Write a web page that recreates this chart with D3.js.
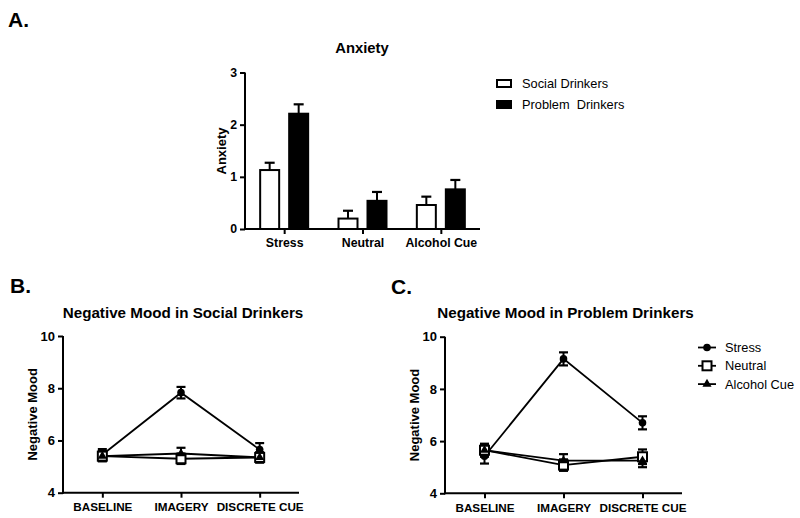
<!DOCTYPE html>
<html><head><meta charset="utf-8">
<script src="https://cdn.jsdelivr.net/npm/d3@7"></script>
<style>body{margin:0;background:#fff}svg{display:block;font-family:"Liberation Sans",Arial,sans-serif}text{white-space:pre}</style>
</head><body><svg id="c" width="800" height="518"></svg>
<script>
// Panel A data
const anxCategories = ["Stress", "Neutral", "Alcohol Cue"];
const anxGroups = ["Social Drinkers", "Problem  Drinkers"];
const anxSocial = [1.13, 0.20, 0.46];
const anxSocialErr = [0.14, 0.15, 0.16];
const anxProblem = [2.21, 0.54, 0.76];
const anxProblemErr = [0.18, 0.17, 0.18];
const anxTicks = [0, 1, 2, 3];

// Panels B & C data
const phases = ["BASELINE", "IMAGERY", "DISCRETE CUE"];
const moodConditions = ["Stress", "Neutral", "Alcohol Cue"];
const moodTicks = [4, 6, 8, 10];
const socialStress = [5.45, 7.83, 5.65];
const socialStressErr = [0.22, 0.22, 0.25];
const socialNeutral = [5.40, 5.30, 5.35];
const socialNeutralErr = [0.18, 0.20, 0.18];
const socialAlcohol = [5.40, 5.50, 5.35];
const socialAlcoholErr = [0.20, 0.22, 0.20];
const problemStress = [5.42, 9.15, 6.70];
const problemStressErr = [0.28, 0.25, 0.25];
const problemNeutral = [5.65, 5.08, 5.40];
const problemNeutralErr = [0.25, 0.22, 0.28];
const problemAlcohol = [5.65, 5.25, 5.25];
const problemAlcoholErr = [0.22, 0.25, 0.25];

const svg = d3.select("#c");
const FONT = "'Liberation Sans', Arial, sans-serif";

function panelLabel(t, x, y) {
  svg.append("text").attr("x", x).attr("y", y).attr("font-size", 21).attr("font-weight", "bold").text(t);
}
panelLabel("A.", 8, 27);
panelLabel("B.", 10, 293);
panelLabel("C.", 391, 294);

// ---------- Panel A ----------
(function () {
  const x = d3.scalePoint().domain(anxCategories).range([245, 480]).padding(0.5);
  const y = d3.scaleLinear().domain([0, 3]).range([229, 72.5]);
  const g = svg.append("g");
  const bw = 19, off = 14.5;
  const series = [
    { vals: anxSocial, errs: anxSocialErr, fill: "#fff", dx: -off },
    { vals: anxProblem, errs: anxProblemErr, fill: "#000", dx: off }
  ];
  series.forEach(s => {
    anxCategories.forEach((c, i) => {
      const cx = x(c) + s.dx;
      g.append("line").attr("x1", cx).attr("x2", cx).attr("y1", y(s.vals[i])).attr("y2", y(s.vals[i] + s.errs[i]))
        .attr("stroke", "#000").attr("stroke-width", 2);
      g.append("line").attr("x1", cx - 5).attr("x2", cx + 5).attr("y1", y(s.vals[i] + s.errs[i])).attr("y2", y(s.vals[i] + s.errs[i]))
        .attr("stroke", "#000").attr("stroke-width", 2.2);
      g.append("rect").attr("x", cx - bw / 2).attr("y", y(s.vals[i])).attr("width", bw).attr("height", y(0) - y(s.vals[i]))
        .attr("fill", s.fill).attr("stroke", "#000").attr("stroke-width", 2);
    });
  });
  const xa = g.append("g").attr("transform", `translate(0,${y(0)})`).call(d3.axisBottom(x).tickSize(5).tickSizeOuter(0));
  const ya = g.append("g").attr("transform", `translate(245,0)`).call(d3.axisLeft(y).tickValues(anxTicks).tickFormat(d3.format("d")).tickSize(5).tickSizeOuter(0));
  [xa, ya].forEach(a => {
    a.select(".domain").attr("stroke-width", 2);
    a.selectAll(".tick line").attr("stroke-width", 2);
    a.selectAll("text").attr("font-family", FONT).attr("font-weight", "bold").attr("font-size", 12.3).attr("fill", "#000");
  });
  xa.select(".domain").attr("d", `M244,0H480`);
  ya.select(".domain").attr("d", `M0,${y(0) + 1}V${y(3)}`);
  xa.selectAll("text").attr("dy", "0.85em");
  g.append("text").attr("x", 362).attr("y", 53).attr("text-anchor", "middle").attr("font-size", 14.8).attr("font-weight", "bold").text("Anxiety");
  g.append("text").attr("transform", "translate(226,151) rotate(-90)").attr("text-anchor", "middle").attr("font-size", 13).attr("font-weight", "bold").text("Anxiety");
  anxGroups.forEach((name, i) => {
    const ly = 83.5 + i * 21;
    g.append("rect").attr("x", 497).attr("y", ly - 3.5).attr("width", 14).attr("height", 7)
      .attr("fill", i === 0 ? "#fff" : "#000").attr("stroke", "#000").attr("stroke-width", 2);
    g.append("text").attr("x", 522).attr("y", ly).attr("dy", "0.35em").attr("font-size", 12.8).text(name);
  });
})();

// ---------- Line panels ----------
function drawMarker(g, type, cx, cy) {
  if (type === 0) {
    g.append("circle").attr("cx", cx).attr("cy", cy).attr("r", 3.8).attr("fill", "#000");
  } else if (type === 1) {
    g.append("rect").attr("x", cx - 4.5).attr("y", cy - 4.5).attr("width", 9).attr("height", 9)
      .attr("fill", "#fff").attr("stroke", "#000").attr("stroke-width", 2);
  } else {
    g.append("path").attr("d", d3.symbol(d3.symbolTriangle, 36)()).attr("transform", `translate(${cx},${cy})`).attr("fill", "#000");
  }
}

function linePanel(opts) {
  const g = svg.append("g");
  const x = d3.scalePoint().domain(phases).range([opts.x0, opts.x1]).padding(0.5);
  const y = d3.scaleLinear().domain([4, 10]).range([opts.yb, opts.yt]);
  const line = d3.line().x((d, i) => x(phases[i])).y(d => y(d));
  opts.series.forEach(s => {
    g.append("path").attr("d", line(s.vals)).attr("fill", "none").attr("stroke", "#000").attr("stroke-width", 1.8);
  });
  opts.series.forEach((s) => {
    phases.forEach((p, i) => {
      const cx = x(p), v = s.vals[i], e = s.errs[i];
      g.append("line").attr("x1", cx).attr("x2", cx).attr("y1", y(v - e)).attr("y2", y(v + e)).attr("stroke", "#000").attr("stroke-width", 2);
      [v - e, v + e].forEach(w => g.append("line").attr("x1", cx - 4.5).attr("x2", cx + 4.5).attr("y1", y(w)).attr("y2", y(w))
        .attr("stroke", "#000").attr("stroke-width", 2.2));
    });
  });
  opts.series.forEach((s, si) => {
    phases.forEach((p, i) => drawMarker(g, si, x(p), y(s.vals[i])));
  });
  const xa = g.append("g").attr("transform", `translate(0,${opts.yb})`).call(d3.axisBottom(x).tickSize(5).tickSizeOuter(0));
  const ya = g.append("g").attr("transform", `translate(${opts.x0},0)`).call(d3.axisLeft(y).tickValues(moodTicks).tickFormat(d3.format("d")).tickSize(5).tickSizeOuter(0));
  [xa, ya].forEach(a => {
    a.select(".domain").attr("stroke-width", 2);
    a.selectAll(".tick line").attr("stroke-width", 2);
    a.selectAll("text").attr("font-family", FONT).attr("font-weight", "bold").attr("font-size", 11.7).attr("fill", "#000");
  });
  ya.selectAll("text").attr("font-size", 13);
  xa.selectAll("text").attr("dy", "0.9em");
  xa.select(".domain").attr("d", `M${opts.x0 - 1},0H${opts.x1}`);
  ya.select(".domain").attr("d", `M0,${opts.yb + 1}V${opts.yt}`);
  g.append("text").attr("x", (opts.x0 + opts.x1) / 2 + 2).attr("y", 318).attr("text-anchor", "middle")
    .attr("font-size", 15.2).attr("font-weight", "bold").text(opts.title);
  g.append("text").attr("transform", `translate(${opts.x0 - 26},${(opts.yb + opts.yt) / 2}) rotate(-90)`)
    .attr("text-anchor", "middle").attr("font-size", 13).attr("font-weight", "bold").text("Negative Mood");
}

linePanel({
  x0: 63, x1: 299, yb: 492.7, yt: 336, title: "Negative Mood in Social Drinkers",
  series: [
    { vals: socialStress, errs: socialStressErr },
    { vals: socialNeutral, errs: socialNeutralErr },
    { vals: socialAlcohol, errs: socialAlcoholErr }
  ]
});
linePanel({
  x0: 445, x1: 682, yb: 493.3, yt: 336.7, title: "Negative Mood in Problem Drinkers",
  series: [
    { vals: problemStress, errs: problemStressErr },
    { vals: problemNeutral, errs: problemNeutralErr },
    { vals: problemAlcohol, errs: problemAlcoholErr }
  ]
});

const lg = svg.append("g");
moodConditions.forEach((name, i) => {
  const ly = 347.5 + i * 18.3;
  lg.append("line").attr("x1", 698).attr("x2", 716).attr("y1", ly).attr("y2", ly).attr("stroke", "#000").attr("stroke-width", 1.8);
  drawMarker(lg, i, 707, ly);
  lg.append("text").attr("x", 725).attr("y", ly).attr("dy", "0.35em").attr("font-size", 12.8).text(name);
});
</script></body></html>
